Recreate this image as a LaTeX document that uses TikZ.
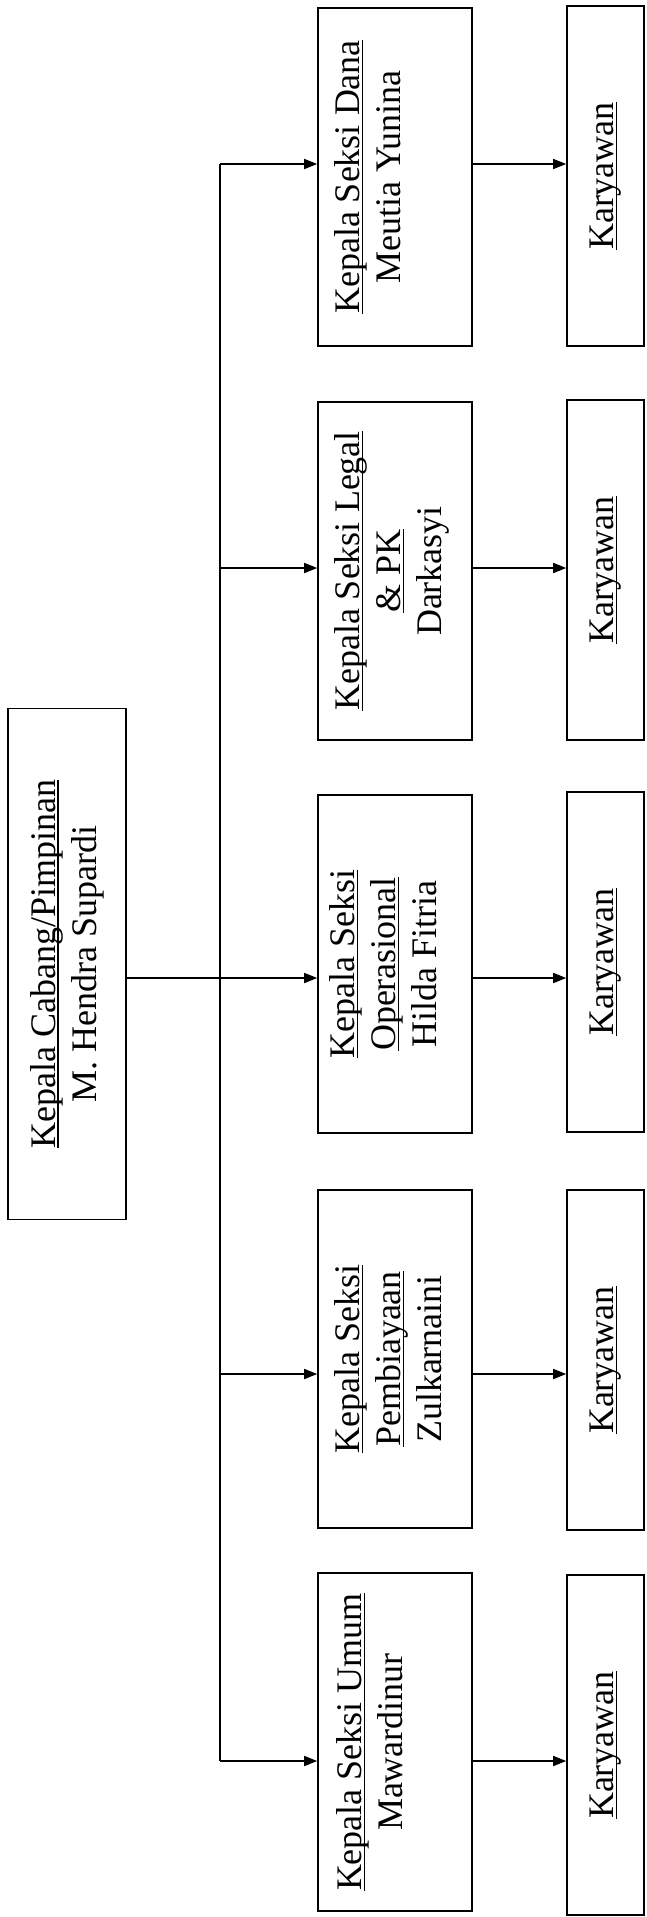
\documentclass[tikz,border=0pt]{standalone}
\usepackage{fontspec}
\setmainfont{Liberation Serif}
\usetikzlibrary{arrows.meta}

% underline that runs just under the baseline (through descenders)
\newcommand{\ulword}[1]{\setbox0\hbox{#1}\rlap{\rule[-0.11em]{\wd0}{0.05em}}\box0}

\tikzset{
  box/.style={draw, line width=1.6pt, inner sep=0pt, minimum width=154pt, minimum height=338pt},
  kbox/.style={box, minimum width=77pt, minimum height=340pt},
  txt/.style={rotate=90, align=center, inner sep=0pt, font=\fontsize{36}{41}\selectfont},
  conn/.style={line width=1.6pt},
  arr/.style={conn, -{Triangle[length=13pt,width=10pt]}}
}

\begin{document}
\begin{tikzpicture}[x=1pt,y=-1pt]
    \path[use as bounding box, fill=white] (0,0) rectangle (646,1917);

    % head of branch
    \node[box, minimum width=118pt, minimum height=511pt] (head) at (67,964) {};
    \node[txt] (head-t) at (head) {\ulword{Kepala Cabang/Pimpinan}\\M. Hendra Supardi};

    % section heads
    \node[box] (dana)  at (395,177)  {};
    \node[box] (legal) at (395,571)  {};
    \node[box] (oper)  at (395,964)  {};
    \node[box] (pemb)  at (395,1359) {};
    \node[box] (umum)  at (395,1742) {};
    \node[txt, anchor=north] (dana-t)  at ([xshift=17pt]dana.west)  {\ulword{Kepala Seksi Dana}\\Meutia Yunina};
    \node[txt, anchor=north] (legal-t) at ([xshift=17pt]legal.west) {\ulword{Kepala Seksi Legal}\\\ulword{\& PK}\\Darkasyi};
    \node[txt, anchor=north] (oper-t)  at ([xshift=12pt]oper.west)  {\ulword{Kepala Seksi}\\\ulword{Operasional}\\Hilda Fitria};
    \node[txt, anchor=north] (pemb-t)  at ([xshift=17pt]pemb.west)  {\ulword{Kepala Seksi}\\\ulword{Pembiayaan}\\Zulkarnaini};
    \node[txt, anchor=north] (umum-t)  at ([xshift=19pt]umum.west)  {\ulword{Kepala Seksi Umum}\\Mawardinur};

    % staff
    \node[kbox] (kdana)  at (605.5,176)  {};
    \node[kbox] (klegal) at (605.5,570)  {};
    \node[kbox] (koper)  at (605.5,962)  {};
    \node[kbox] (kpemb)  at (605.5,1360) {};
    \node[kbox] (kumum)  at (605.5,1745) {};
    \node[txt] (kdana-t)  at (kdana)  {\ulword{Karyawan}};
    \node[txt] (klegal-t) at (klegal) {\ulword{Karyawan}};
    \node[txt] (koper-t)  at (koper)  {\ulword{Karyawan}};
    \node[txt] (kpemb-t)  at (kpemb)  {\ulword{Karyawan}};
    \node[txt] (kumum-t)  at (kumum)  {\ulword{Karyawan}};

    % arrow entry points (not quite at the box middles)
    \coordinate (dana-in)  at ([yshift=13pt]dana.west);
    \coordinate (legal-in) at ([yshift=3pt]legal.west);
    \coordinate (oper-in)  at ([yshift=-14pt]oper.west);
    \coordinate (pemb-in)  at ([yshift=-15pt]pemb.west);
    \coordinate (umum-in)  at ([yshift=-19pt]umum.west);

    % bus line from the head
    \coordinate (bus) at (220,0);
    \draw[conn] (bus |- dana-in) -- (bus |- umum-in);
    \draw[arr] (oper-in -| head.east) -- (oper-in);
    \draw[arr] (bus |- dana-in) -- (dana-in);
    \draw[arr] (bus |- legal-in) -- (legal-in);
    \draw[arr] (bus |- pemb-in) -- (pemb-in);
    \draw[arr] (bus |- umum-in) -- (umum-in);

    % sections to staff
    \draw[arr] (dana-in -| dana.east) -- (dana-in -| kdana.west);
    \draw[arr] (legal-in -| legal.east) -- (legal-in -| klegal.west);
    \draw[arr] (oper-in -| oper.east) -- (oper-in -| koper.west);
    \draw[arr] (pemb-in -| pemb.east) -- (pemb-in -| kpemb.west);
    \draw[arr] (umum-in -| umum.east) -- (umum-in -| kumum.west);
\end{tikzpicture}
\end{document}
